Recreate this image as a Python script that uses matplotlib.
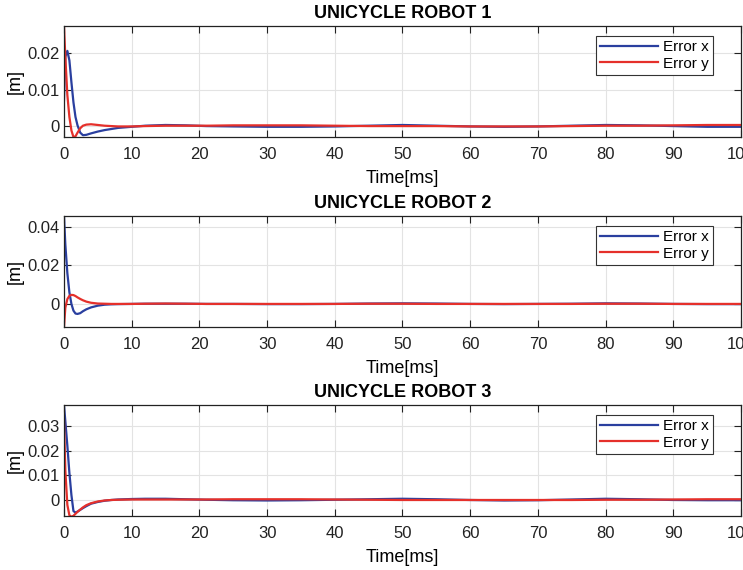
import matplotlib.pyplot as plt

plt.rcParams['font.family'] = ['Liberation Sans', 'DejaVu Sans']

# time axis samples (ms), denser at the start
t = [0, 0.2, 0.5, 0.8, 1.1, 1.4, 1.7, 2.0, 2.4, 2.8, 3.3, 4.0, 5.0, 6.0, 7.0, 8.0, 10, 12, 15, 18, 21, 25,
     30, 35, 40, 45, 50, 55, 60, 65, 70, 75, 80, 85, 90, 95, 100]

# robot 1
r1_ex = [0.0071, 0.019, 0.0206, 0.018, 0.012, 0.0065, 0.0025, 0.0002, -0.0018, -0.0025, -0.0024, -0.002,
         -0.0015, -0.0011, -0.0008, -0.0005, -0.0002, 0.0001, 0.0003, 0.0002, 0.0, -0.0001,
         -0.0002, -0.0002, -0.0001, 0.0001, 0.0003, 0.0001, -0.0001, -0.0002, -0.0001, 0.0001, 0.0003, 0.0002,
         0.0, -0.0002, -0.0002]
r1_ey = [0.0274, 0.019, 0.0085, 0.0025, -0.0012, -0.003, -0.0028, -0.0018, -0.0006, 0.0001, 0.0004, 0.0005,
         0.0003, 0.0001, 0.0, -0.0001, -0.0001, 0.0, 0.0001, 0.0001, 0.0001, 0.0002,
         0.0002, 0.0002, 0.0001, 0.0, 0.0, 0.0, -0.0001, -0.0001, -0.0001, 0.0, 0.0001, 0.0001,
         0.0002, 0.0003, 0.0003]

# robot 2
r2_ex = [0.0457, 0.031, 0.016, 0.006, 0.0, -0.0035, -0.005, -0.0052, -0.0048, -0.0038, -0.0028, -0.0018,
         -0.0009, -0.0004, -0.0002, -0.0001, 0.0, 0.0001, 0.0001, 0.0001, 0.0, 0.0,
         -0.0001, -0.0001, 0.0, 0.0002, 0.0003, 0.0002, 0.0, -0.0001, 0.0, 0.0001, 0.0003, 0.0002,
         0.0, -0.0001, -0.0001]
r2_ey = [-0.012, -0.002, 0.0025, 0.0042, 0.0047, 0.0046, 0.0041, 0.0034, 0.0026, 0.0019, 0.0012, 0.0006,
         0.0002, 0.0001, 0.0, 0.0, 0.0, 0.0001, 0.0002, 0.0001, 0.0, 0.0,
         0.0, 0.0, 0.0, 0.0001, 0.0001, 0.0, 0.0, 0.0, 0.0, 0.0, 0.0001, 0.0001,
         0.0, 0.0, 0.0]

# robot 3
r3_ex = [0.0385, 0.032, 0.022, 0.011, 0.002, -0.0045, -0.0051, -0.0047, -0.004, -0.0033, -0.0025, -0.0015,
         -0.0008, -0.0003, 0.0, 0.0002, 0.0004, 0.0005, 0.0005, 0.0003, 0.0001, -0.0001,
         -0.0002, -0.0001, 0.0001, 0.0003, 0.0005, 0.0003, 0.0, -0.0002, -0.0001, 0.0002, 0.0005, 0.0003,
         0.0, -0.0001, -0.0001]
r3_ey = [0.0324, 0.012, -0.002, -0.0062, -0.0068, -0.0064, -0.0056, -0.0048, -0.0039, -0.003, -0.0021, -0.0013,
         -0.0006, -0.0002, 0.0, 0.0001, 0.0002, 0.0002, 0.0002, 0.0002, 0.0002, 0.0003,
         0.0003, 0.0003, 0.0002, 0.0001, 0.0, 0.0, 0.0, 0.0, 0.0, 0.0, 0.0001, 0.0001,
         0.0002, 0.0003, 0.0003]

titles = ["UNICYCLE ROBOT 1", "UNICYCLE ROBOT 2", "UNICYCLE ROBOT 3"]
errors = [(r1_ex, r1_ey), (r2_ex, r2_ey), (r3_ex, r3_ey)]
ylims = [(-0.003, 0.0274), (-0.012, 0.0457), (-0.0065, 0.0385)]
yticks = [[0, 0.01, 0.02], [0, 0.02, 0.04], [0, 0.01, 0.02, 0.03]]
xticks = list(range(0, 101, 10))

blue = '#2a3f9f'
red = '#e5302b'

fig = plt.figure(figsize=(7.43, 5.70), dpi=100)
bottoms = [0.7596, 0.4263, 0.0947]

for i in range(3):
    ax = fig.add_axes([0.0861, bottoms[i], 0.9112, 0.1947])
    ex, ey = errors[i]
    ax.plot(t, ex, color=blue, lw=1.6, label='Error x')
    ax.plot(t, ey, color=red, lw=1.6, label='Error y')
    ax.set_xlim(0, 100)
    ax.set_ylim(*ylims[i])
    ax.set_xticks(xticks)
    ax.set_yticks(yticks[i])
    ax.set_yticklabels(['0' if v == 0 else f'{v:g}' for v in yticks[i]])
    ax.tick_params(direction='in', top=True, right=True, labelsize=12, length=5, width=0.8,
                   colors='#222222')
    ax.tick_params(axis='x', pad=7)
    ax.tick_params(axis='y', pad=3)
    ax.grid(True, color='#e3e3e3', lw=0.8)
    for s in ax.spines.values():
        s.set_linewidth(0.9)
        s.set_color('#222222')
    ax.set_title(titles[i], fontsize=13, fontweight='bold', pad=6)
    ax.set_xlabel('Time[ms]', fontsize=13, labelpad=6)
    ax.set_ylabel('[m]', fontsize=13, labelpad=3)
    leg = ax.legend(loc='upper right', bbox_to_anchor=(0.959, 0.912), fontsize=11, fancybox=False,
                    framealpha=1, edgecolor='#333333', handlelength=3.8, borderpad=0.3,
                    labelspacing=0.15, handletextpad=0.3, borderaxespad=0)
    leg.get_frame().set_linewidth(0.8)

fig.savefig('out.png', dpi=100)
